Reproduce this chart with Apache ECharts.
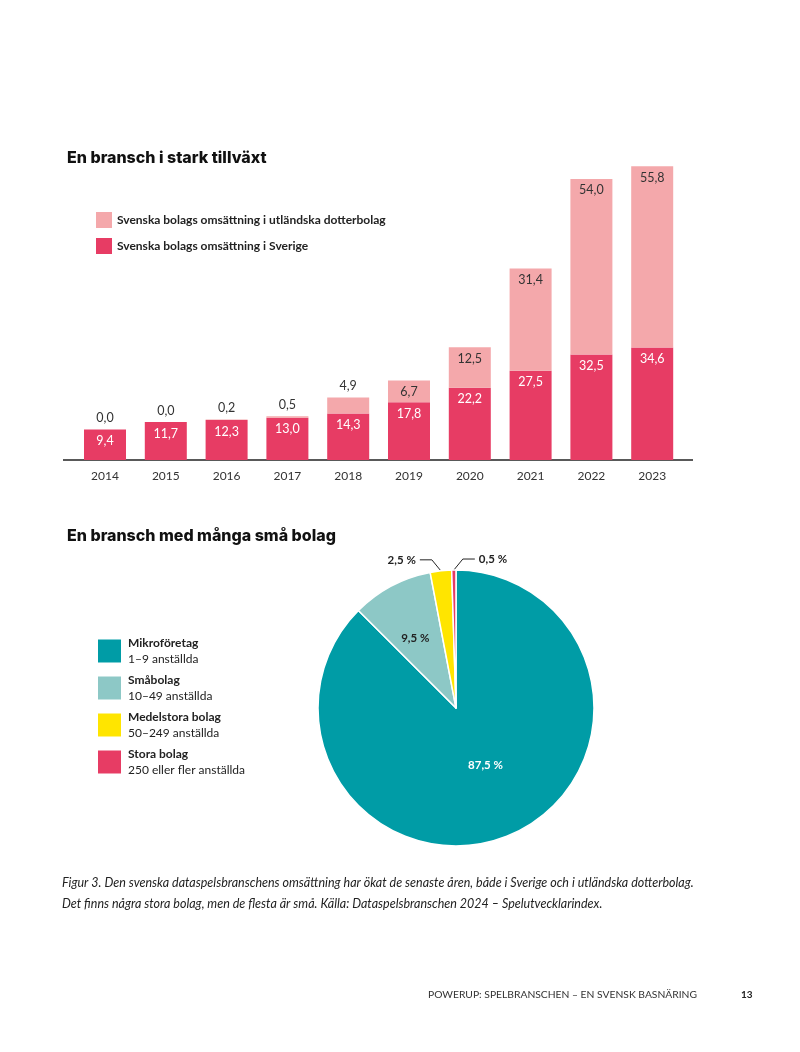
<!DOCTYPE html>
<html>
<head>
<meta charset="utf-8">
<script src="https://cdn.jsdelivr.net/npm/echarts@6/dist/echarts.min.js"></script>
<style>
  html, body { margin: 0; padding: 0; background: #fff; }
  #chart { width: 800px; height: 1052px; }
</style>
</head>
<body>
<div id="chart"></div>
<script>
// bar chart data (miljarder kr)
const years = ['2014', '2015', '2016', '2017', '2018', '2019', '2020', '2021', '2022', '2023']
const sverige = [9.4, 11.7, 12.3, 13.0, 14.3, 17.8, 22.2, 27.5, 32.5, 34.6]
const utland = [0.0, 0.0, 0.2, 0.5, 4.9, 6.7, 12.5, 31.4, 54.0, 55.8]
const barNames = ['Svenska bolags omsättning i utländska dotterbolag', 'Svenska bolags omsättning i Sverige']

// pie data (% of companies)
const sizeNames = ['Mikroföretag', 'Småbolag', 'Medelstora bolag', 'Stora bolag']
const sizeSubs = ['1–9 anställda', '10–49 anställda', '50–249 anställda', '250 eller fler anställda']
const sizeShares = [87.5, 9.5, 2.5, 0.5]

const PINK = '#e73c64'
const LIGHT_PINK = '#f4a8ab'
const pieColors = ['#009ca6', '#8dc8c6', '#ffe500', '#e73c64']
const FONT = 'Lato'
const HEAD = 'Inter'

const fmt = v => v.toFixed(1).replace('.', ',')

const chart = echarts.init(document.getElementById('chart'))

// small totals get their label above the bar, large ones inside
const utlandData = utland.map((v, i) => {
  const above = sverige[i] + v < 22
  return {
    value: v,
    label: {
      position: above ? 'top' : 'insideTop',
      distance: 5
    }
  }
})

const pieData = sizeShares.map((v, i) => {
  const outside = i >= 2
  return {
    name: sizeNames[i],
    value: v,
    label: {
      position: outside ? 'outside' : 'inside',
      color: i === 0 ? '#fff' : '#222'
    },
    labelLine: { show: outside }
  }
})

chart.setOption({
  animation: false,
  textStyle: { fontFamily: FONT },
  title: [
    {
      text: 'En bransch i stark tillväxt',
      left: 62, top: 145,
      textStyle: { fontFamily: HEAD, fontWeight: 800, fontSize: 16, color: '#111' }
    },
    {
      text: 'En bransch med många små bolag',
      left: 62, top: 523,
      textStyle: { fontFamily: HEAD, fontWeight: 800, fontSize: 16, color: '#111' }
    }
  ],
  legend: [
    {
      data: barNames,
      orient: 'vertical',
      left: 91, top: 207,
      itemWidth: 16, itemHeight: 16, itemGap: 10,
      icon: 'rect',
      selectedMode: false,
      textStyle: { fontFamily: FONT, fontWeight: 'bold', fontSize: 12, color: '#222' }
    },
    {
      data: sizeNames,
      orient: 'vertical',
      left: 91, top: 632,
      itemWidth: 25, itemHeight: 25, itemGap: 9,
      icon: 'rect',
      selectedMode: false,
      formatter: name => '{b|' + name + '}\n{n|' + sizeSubs[sizeNames.indexOf(name)] + '}',
      textStyle: {
        rich: {
          b: { fontFamily: FONT, fontWeight: 'bold', fontSize: 12, color: '#222', lineHeight: 16, padding: [0, 0, 0, 1] },
          n: { fontFamily: FONT, fontSize: 12, color: '#222', lineHeight: 16, padding: [0, 0, 0, 1] }
        }
      }
    }
  ],
  grid: { left: 74.6, width: 608, top: 135, bottom: 592 },
  xAxis: {
    type: 'category',
    data: years,
    axisLine: { show: false },
    axisTick: { show: false },
    axisLabel: { fontFamily: FONT, fontSize: 12, color: '#333', margin: 10 }
  },
  yAxis: { type: 'value', min: 0, max: 100, show: false, splitLine: { show: false } },
  graphic: [
    { type: 'line', shape: { x1: 63, y1: 460, x2: 693, y2: 460 }, style: { stroke: '#222', lineWidth: 1.5 } },
    {
      type: 'text', left: 62, top: 872,
      style: {
        text: 'Figur 3. Den svenska dataspelsbranschens omsättning har ökat de senaste åren, både i Sverige och i utländska dotterbolag.\nDet finns några stora bolag, men de flesta är små. Källa: Dataspelsbranschen 2024 – Spelutvecklarindex.',
        font: 'italic 12.5px Lato', fill: '#222', lineHeight: 21
      }
    },
    {
      type: 'text', right: 103, top: 990,
      style: { text: 'POWERUP: SPELBRANSCHEN – EN SVENSK BASNÄRING', font: '10.3px Lato', fill: '#333' }
    },
    {
      type: 'text', left: 741, top: 990,
      style: { text: '13', font: 'bold 10px Lato', fill: '#222' }
    }
  ],
  series: [
    {
      name: barNames[1],
      type: 'bar',
      stack: 'oms',
      barWidth: 42,
      data: sverige,
      itemStyle: { color: PINK },
      label: {
        show: true, position: 'insideTop', distance: 5,
        color: '#fff', fontSize: 12.5, fontFamily: FONT,
        formatter: p => fmt(p.value)
      }
    },
    {
      name: barNames[0],
      type: 'bar',
      stack: 'oms',
      barWidth: 42,
      data: utlandData,
      itemStyle: { color: LIGHT_PINK },
      label: {
        show: true, color: '#333', fontSize: 12.5, fontFamily: FONT,
        formatter: p => fmt(p.value)
      }
    },
    {
      type: 'pie',
      center: [456, 708],
      radius: 138,
      startAngle: 90,
      clockwise: true,
      avoidLabelOverlap: false,
      data: pieData,
      color: pieColors,
      itemStyle: { borderColor: '#fff', borderWidth: 1.5 },
      label: {
        show: true, fontFamily: FONT, fontWeight: 'bold', fontSize: 11.5,
        formatter: p => fmt(p.value) + ' %'
      },
      labelLine: { show: false, length: 10, length2: 12, lineStyle: { color: '#222', width: 1 } },
      labelLayout: function (p) {
        // nudge inside labels a little outward, like the original
        if (p.dataIndex === 0) return { dx: 2, dy: -9 }
        if (p.dataIndex === 1) return { dx: -7, dy: -6 }
        if (!p.labelLinePoints) return {}
        const p0 = p.labelLinePoints[0]
        const s = p.dataIndex === 3 ? 1 : -1
        const p1 = [p0[0] + s * 9, p0[1] - 11]
        const p2 = [p1[0] + s * 12, p1[1]]
        return {
          x: p2[0] + s * 4,
          y: p2[1],
          align: s > 0 ? 'left' : 'right',
          verticalAlign: 'middle',
          labelLinePoints: [p0, p1, p2]
        }
      }
    }
  ]
})
</script>
</body>
</html>
